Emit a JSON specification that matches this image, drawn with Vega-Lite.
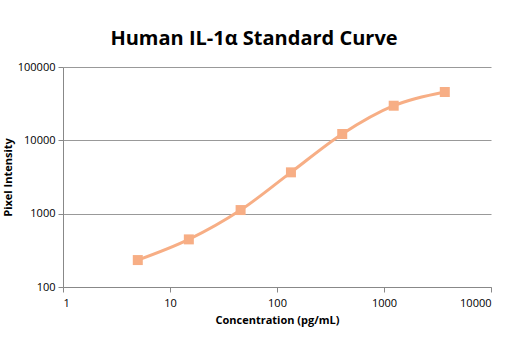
{
  "$schema": "https://vega.github.io/schema/vega-lite/v6.json",
  "width": 428,
  "height": 220,
  "autosize": {"type": "none"},
  "padding": {"left": 63, "top": 67, "right": 19, "bottom": 75},
  "background": "white",
  "title": {
    "text": "Human IL-1α Standard Curve",
    "font": "Open Sans",
    "fontSize": 20,
    "fontWeight": "bold",
    "color": "#000000",
    "anchor": "middle",
    "dx": -23,
    "offset": 12
  },
  "data": {
    "values": [
      {"conc": 5, "intensity": 233},
      {"conc": 15, "intensity": 446},
      {"conc": 45.7, "intensity": 1120},
      {"conc": 135, "intensity": 3660},
      {"conc": 407, "intensity": 12200},
      {"conc": 1232, "intensity": 29650},
      {"conc": 3700, "intensity": 45600}
    ]
  },
  "encoding": {
    "x": {
      "field": "conc",
      "type": "quantitative",
      "scale": {"type": "log", "domain": [1, 10000], "nice": false},
      "axis": {
        "title": "Concentration (pg/mL)",
        "values": [1, 10, 100, 1000, 10000],
        "format": "d",
        "grid": false,
        "domainColor": "#888888",
        "tickColor": "#888888",
        "tickSize": 5,
        "labelFont": "Open Sans",
        "labelFontSize": 11,
        "labelColor": "#000000",
        "labelPadding": 5,
        "titleFont": "Open Sans",
        "titleFontSize": 11,
        "titleFontWeight": "bold",
        "titleColor": "#000000",
        "titlePadding": 6
      }
    },
    "y": {
      "field": "intensity",
      "type": "quantitative",
      "scale": {"type": "log", "domain": [100, 100000], "nice": false},
      "axis": {
        "title": "Pixel Intensity",
        "values": [100, 1000, 10000, 100000],
        "format": "d",
        "grid": true,
        "gridColor": "#999999",
        "domainColor": "#888888",
        "tickColor": "#888888",
        "tickSize": 5,
        "labelFont": "Open Sans",
        "labelFontSize": 11,
        "labelColor": "#000000",
        "labelPadding": 3,
        "titleFont": "Open Sans",
        "titleFontSize": 11,
        "titleFontWeight": "bold",
        "titleColor": "#000000",
        "titleX": -55,
        "titleY": 110,
        "titleAlign": "center",
        "titleBaseline": "middle"
      }
    }
  },
  "layer": [
    {
      "mark": {"type": "line", "interpolate": "monotone", "color": "#F7AE85", "strokeWidth": 3}
    },
    {
      "mark": {"type": "square", "color": "#F7AE85", "opacity": 1, "filled": true, "size": 100}
    }
  ],
  "config": {"view": {"stroke": null}}
}
